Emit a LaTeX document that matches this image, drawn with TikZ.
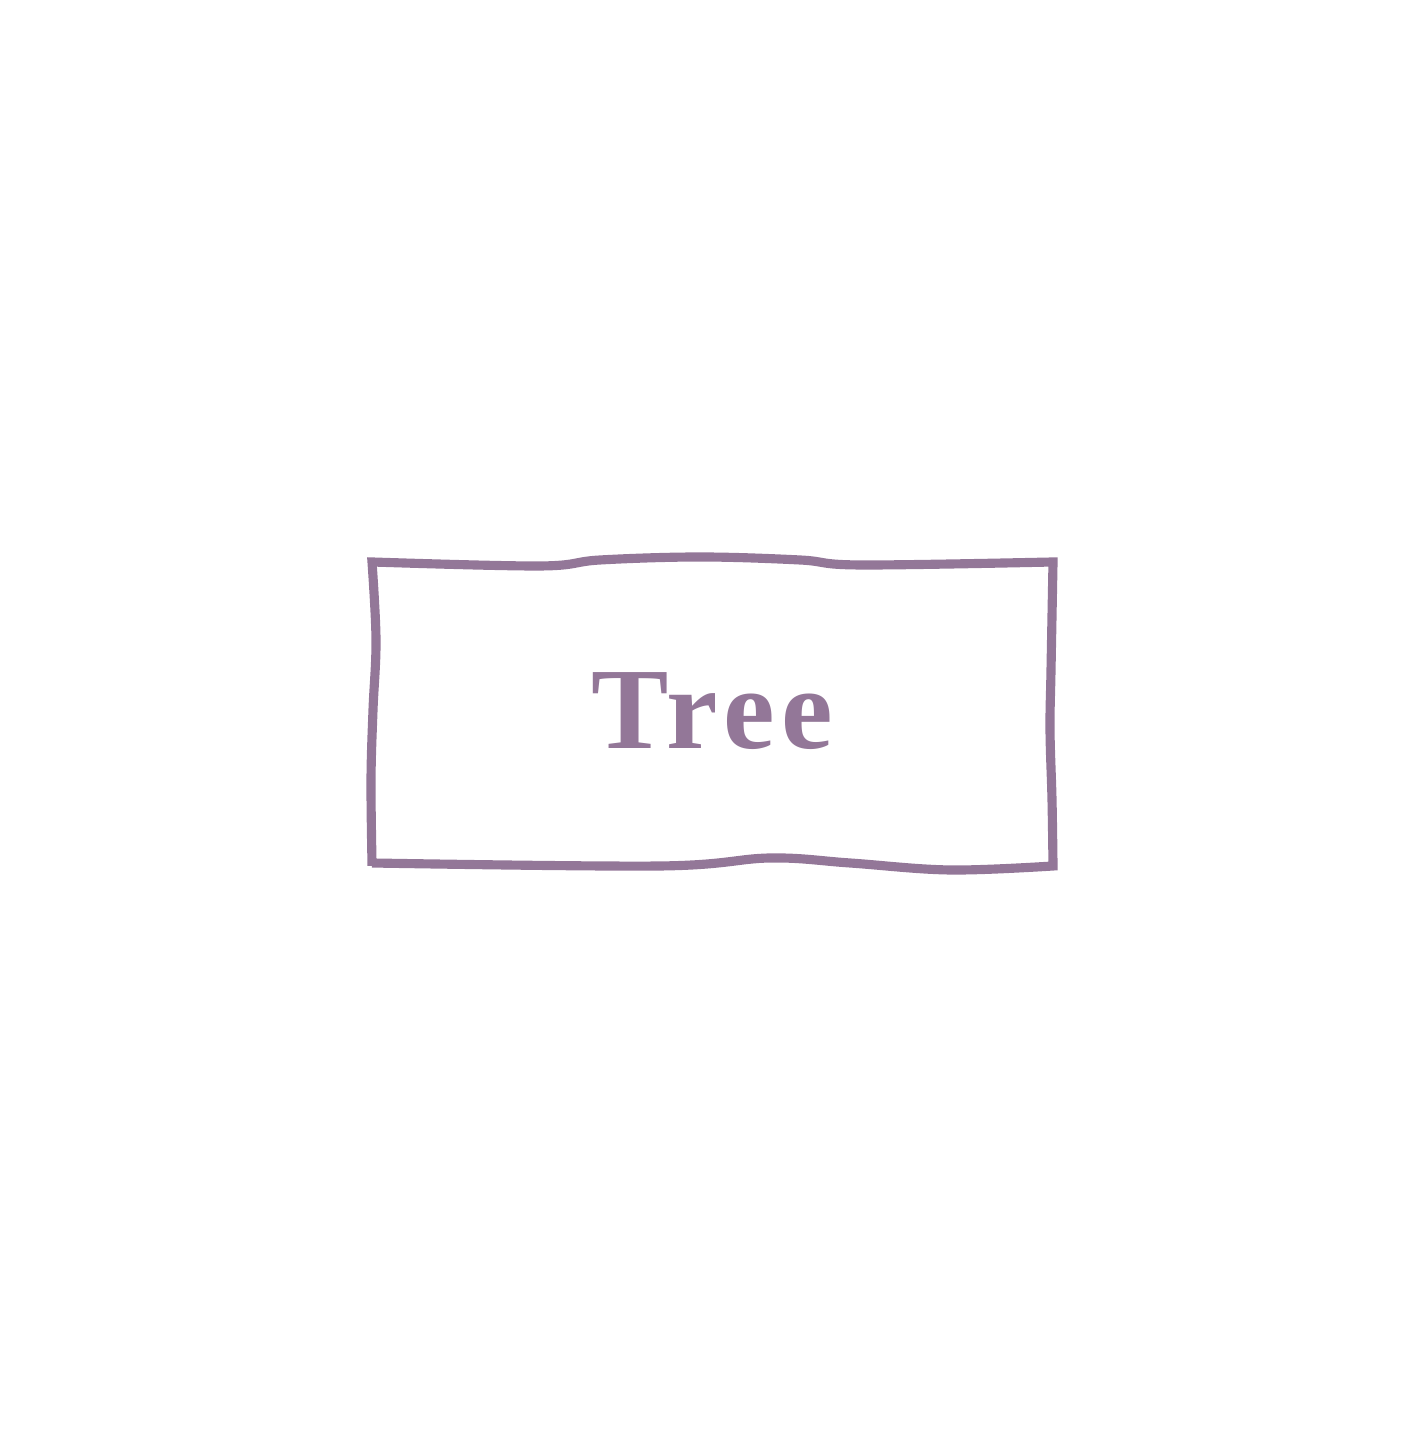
\documentclass[tikz,border=0pt]{standalone}
\usepackage{fontspec}
\setmainfont{Liberation Serif}
\definecolor{treepurple}{HTML}{937798}
\tikzset{sketchline/.style={draw=treepurple,line width=2.6pt,line join=miter}}

\begin{document}
\begin{tikzpicture}
\useasboundingbox (0,0) rectangle (14.25,14.30);

% The label
\node (tree) at (7.12,7.19) [text=treepurple,font=\bfseries\fontsize{33}{33}\selectfont\addfontfeature{LetterSpace=6}]{Tree};

% The sketchy box around it
\coordinate (nw) at (3.72,8.68);
\coordinate (ne) at (10.53,8.68);
\coordinate (se) at (10.53,5.64);
\coordinate (sw) at (3.72,5.64);
\draw[sketchline] (nw)
  -- plot[smooth,tension=0.6] coordinates {(3.72,8.68) (5.40,8.64) (6.00,8.70) (7.00,8.73) (8.00,8.70) (8.60,8.65) (10.53,8.68)}
  -- (ne)
  -- plot[smooth,tension=0.6] coordinates {(10.53,8.68) (10.51,7.60) (10.50,7.00) (10.52,6.30) (10.53,5.64)}
  -- (se)
  -- plot[smooth,tension=0.6] coordinates {(10.53,5.64) (9.50,5.60) (8.50,5.67) (7.70,5.72) (6.60,5.64) (3.72,5.67)}
  -- (sw)
  -- plot[smooth,tension=0.6] coordinates {(3.72,5.67) (3.71,6.50) (3.73,7.20) (3.76,7.90) (3.72,8.68)}
  -- cycle;

\end{tikzpicture}
\end{document}
